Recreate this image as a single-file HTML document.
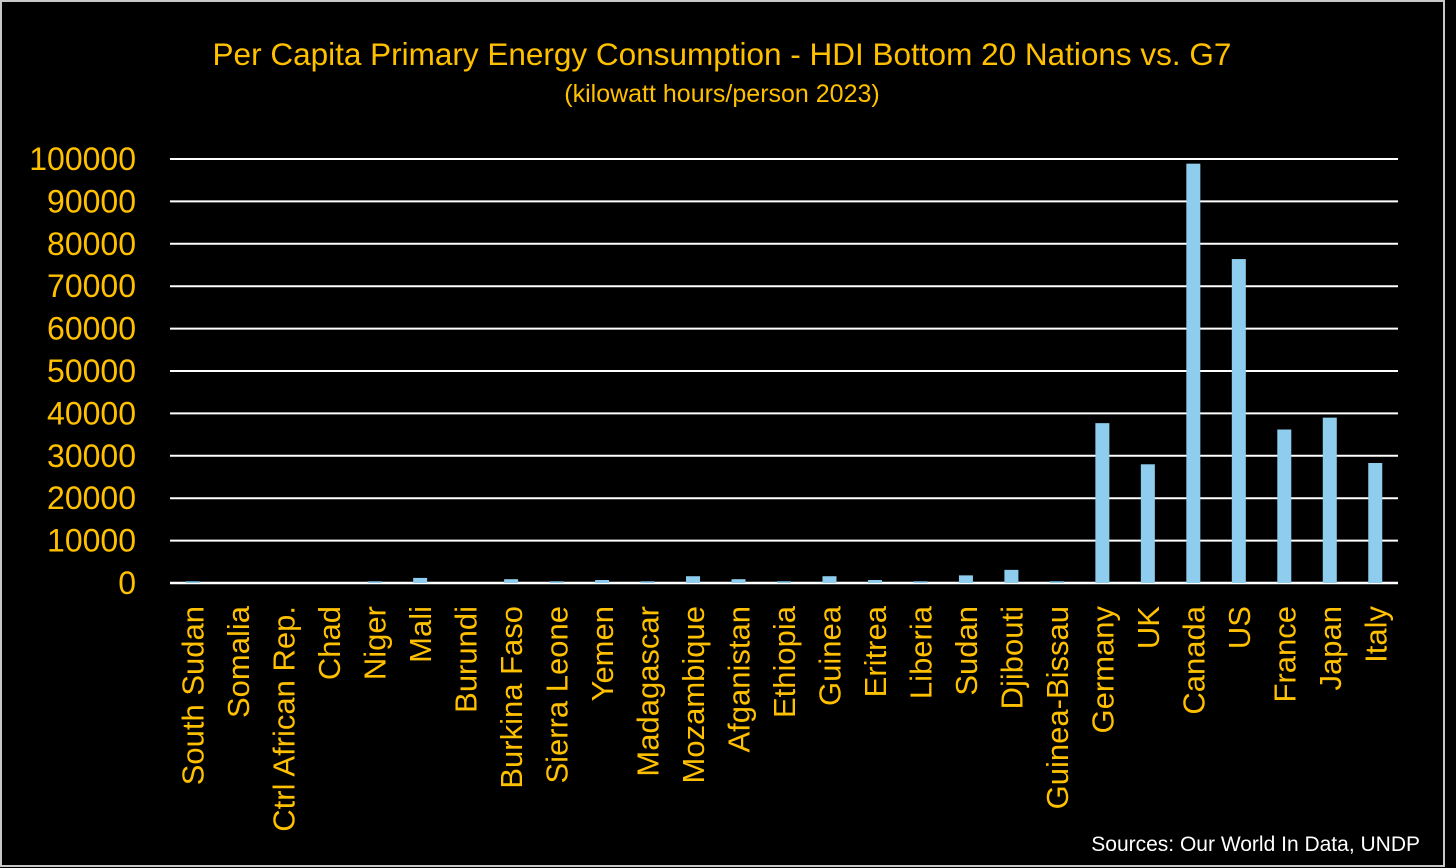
<!DOCTYPE html>
<html><head><meta charset="utf-8"><style>
html,body{margin:0;padding:0;background:#000;}
svg{display:block;}
text{font-family:"Liberation Sans",sans-serif;fill:#FFC000;}
</style></head><body>
<svg id="chart" width="1456" height="868">
<rect x="1" y="1" width="1443" height="865" fill="#000" stroke="#c8c8c8" stroke-width="2"/>
<text x="722" y="65" font-size="31.5" text-anchor="middle">Per Capita Primary Energy Consumption - HDI Bottom 20 Nations vs. G7</text>
<text x="722" y="102" font-size="25" text-anchor="middle">(kilowatt hours/person 2023)</text>
<text x="1420" y="851" font-size="21" text-anchor="end" style="fill:#fff">Sources: Our World In Data, UNDP</text>
<g id="grid"></g><g id="bars"></g><g id="labels"></g>
</svg>
<script>
const categories=["South Sudan","Somalia","Ctrl African Rep.","Chad","Niger","Mali","Burundi","Burkina Faso","Sierra Leone","Yemen","Madagascar","Mozambique","Afganistan","Ethiopia","Guinea","Eritrea","Liberia","Sudan","Djibouti","Guinea-Bissau","Germany","UK","Canada","US","France","Japan","Italy"];
const values=[400,0,0,0,400,1200,0,900,400,700,400,1600,900,400,1600,700,400,1800,3100,400,37700,28000,98900,76400,36200,39000,28300];
const ticks=[0,10000,20000,30000,40000,50000,60000,70000,80000,90000,100000];
const X0=170,X1=1398,Y0=583,Y1=159,MAX=100000;
const ns="http://www.w3.org/2000/svg";
const step=(X1-X0)/categories.length;
const y=v=>Y0-(v/MAX)*(Y0-Y1);
const xc=i=>X0+step*(i+0.5);
const grid=document.getElementById('grid'),bars=document.getElementById('bars'),labels=document.getElementById('labels');
ticks.forEach(t=>{
 const l=document.createElementNS(ns,'line');
 l.setAttribute('x1',X0);l.setAttribute('x2',X1);l.setAttribute('y1',y(t));l.setAttribute('y2',y(t));
 l.setAttribute('stroke','#fff');l.setAttribute('stroke-width',t===0?2.5:2);
 
 
 grid.appendChild(l);
 const tx=document.createElementNS(ns,'text');
 tx.setAttribute('x',136);tx.setAttribute('y',y(t)+11);tx.setAttribute('font-size','32');tx.setAttribute('text-anchor','end');
 tx.textContent=t;
 
 
 grid.appendChild(tx);
});
categories.forEach((c,i)=>{
 const v=values[i];
 if(v>0){
 const r=document.createElementNS(ns,'rect');
 r.setAttribute('x',xc(i)-7);r.setAttribute('width',14);r.setAttribute('y',y(v));r.setAttribute('height',Y0-y(v));
 r.setAttribute('fill','#8ECDEE');
 
 
 bars.appendChild(r);}
 const tx=document.createElementNS(ns,'text');
 tx.setAttribute('font-size','31');tx.setAttribute('text-anchor','end');
 tx.setAttribute('transform','translate('+(xc(i)+11)+',606) rotate(-90)');
 tx.textContent=c;
 
 
 labels.appendChild(tx);
});
</script>
</body></html>
